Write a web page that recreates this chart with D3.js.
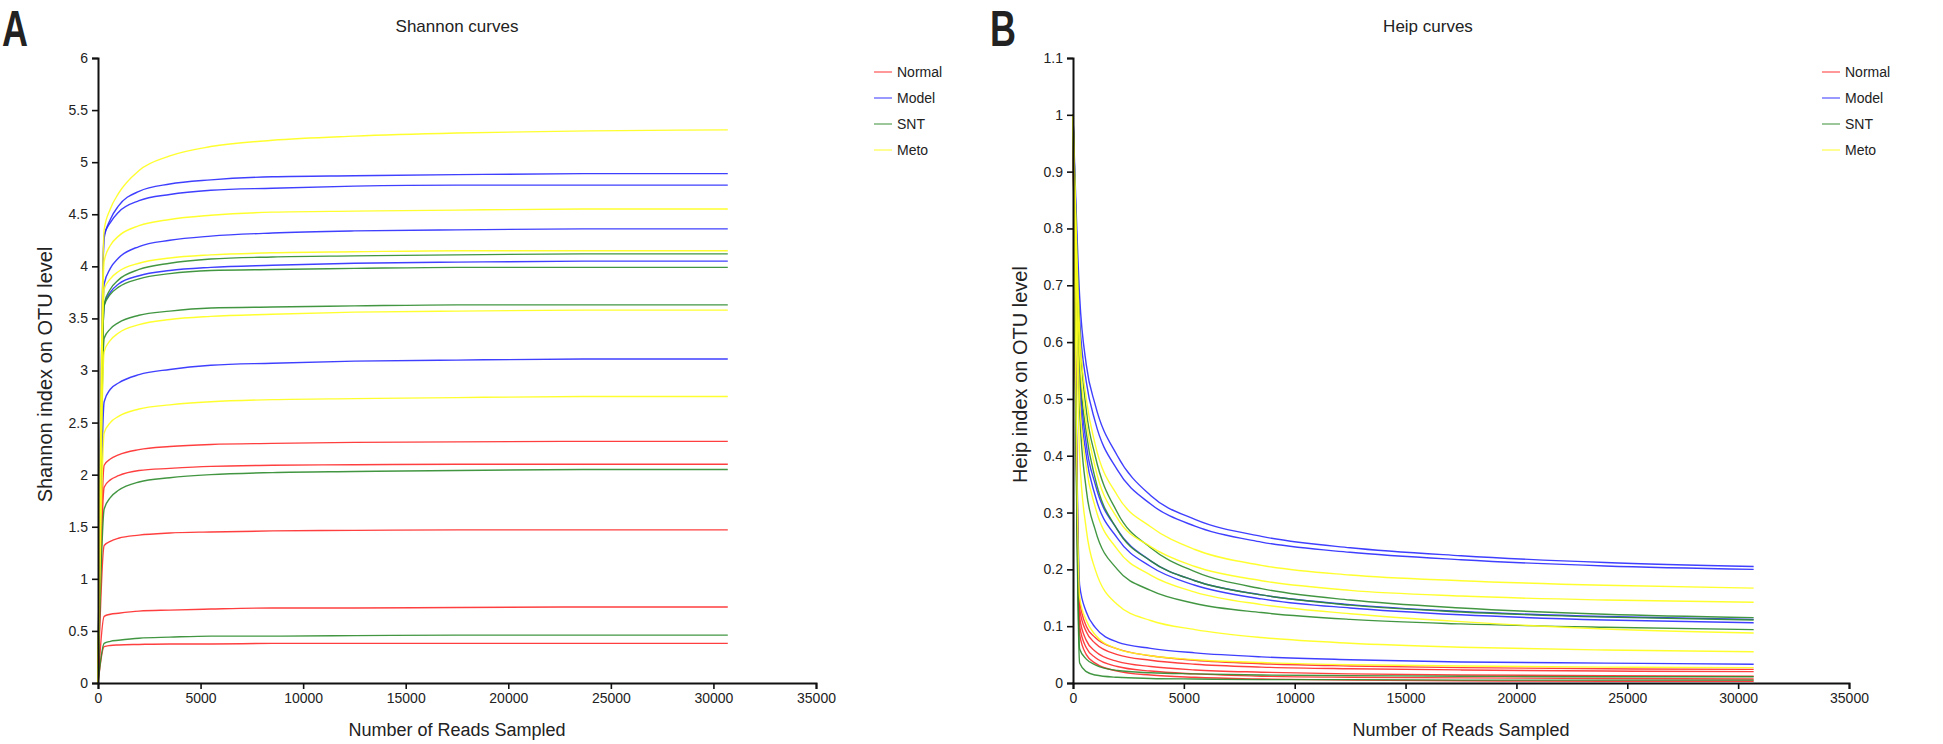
<!DOCTYPE html>
<html><head><meta charset="utf-8">
<script src="https://cdn.jsdelivr.net/npm/d3@7"></script>
<style>
html,body{margin:0;padding:0;background:#fff;}
svg{display:block;}
text{font-family:"Liberation Sans",Arial,sans-serif;fill:#222;}
</style></head><body>
<svg id="c" width="1943" height="744"></svg>
<script>
// ---------- data ----------
const reads = [1, 300, 600, 1000, 2000, 3500, 5500, 8500, 12500, 17500, 24000, 30700];
const groups = ["Normal", "Model", "SNT", "Meto"];
const groupColors = ["#ff2a2a", "#2a2aff", "#2e8b2e", "#ffff1a"];
const xTicks = [0, 5000, 10000, 15000, 20000, 25000, 30000, 35000];
const shannonTicks = [0, 0.5, 1, 1.5, 2, 2.5, 3, 3.5, 4, 4.5, 5, 5.5, 6];
const heipTicks = [0, 0.1, 0.2, 0.3, 0.4, 0.5, 0.6, 0.7, 0.8, 0.9, 1, 1.1];

// Shannon index per sample
const shannonNormal = [
  [0, 2.09, 2.15, 2.19, 2.24, 2.27, 2.29, 2.30, 2.31, 2.315, 2.32, 2.32],
  [0, 1.88, 1.95, 1.99, 2.04, 2.06, 2.08, 2.09, 2.095, 2.10, 2.10, 2.10],
  [0, 1.32, 1.36, 1.39, 1.42, 1.44, 1.45, 1.46, 1.465, 1.47, 1.47, 1.47],
  [0, 0.64, 0.66, 0.67, 0.69, 0.70, 0.71, 0.72, 0.72, 0.725, 0.73, 0.73],
  [0, 0.35, 0.36, 0.365, 0.37, 0.375, 0.375, 0.38, 0.38, 0.38, 0.38, 0.38]
];
const shannonModel = [
  [0, 4.27, 4.45, 4.58, 4.72, 4.79, 4.83, 4.86, 4.87, 4.88, 4.89, 4.89],
  [0, 4.30, 4.42, 4.52, 4.63, 4.69, 4.73, 4.75, 4.77, 4.78, 4.78, 4.78],
  [0, 3.83, 3.98, 4.08, 4.19, 4.25, 4.29, 4.32, 4.34, 4.35, 4.36, 4.36],
  [0, 3.63, 3.75, 3.83, 3.91, 3.96, 3.99, 4.01, 4.03, 4.04, 4.05, 4.05],
  [0, 2.70, 2.82, 2.88, 2.96, 3.01, 3.05, 3.07, 3.09, 3.10, 3.11, 3.11]
];
const shannonSNT = [
  [0, 3.64, 3.78, 3.87, 3.97, 4.03, 4.07, 4.09, 4.10, 4.11, 4.12, 4.12],
  [0, 3.62, 3.73, 3.80, 3.88, 3.93, 3.96, 3.97, 3.98, 3.99, 3.99, 3.99],
  [0, 3.31, 3.40, 3.46, 3.53, 3.57, 3.60, 3.61, 3.62, 3.63, 3.63, 3.63],
  [0, 1.67, 1.78, 1.85, 1.93, 1.97, 2.00, 2.02, 2.03, 2.04, 2.05, 2.05],
  [0, 0.38, 0.40, 0.41, 0.43, 0.44, 0.45, 0.45, 0.455, 0.46, 0.46, 0.46]
];
const shannonMeto = [
  [0, 4.35, 4.55, 4.70, 4.92, 5.06, 5.15, 5.21, 5.25, 5.28, 5.30, 5.31],
  [0, 4.05, 4.20, 4.29, 4.39, 4.45, 4.49, 4.52, 4.53, 4.54, 4.55, 4.55],
  [0, 3.78, 3.88, 3.95, 4.03, 4.08, 4.11, 4.13, 4.14, 4.15, 4.15, 4.15],
  [0, 3.18, 3.29, 3.36, 3.44, 3.49, 3.52, 3.54, 3.56, 3.57, 3.58, 3.58],
  [0, 2.40, 2.50, 2.56, 2.63, 2.67, 2.70, 2.72, 2.73, 2.74, 2.75, 2.75]
];

// Heip index per sample
const heipNormal = [
  [1.0, 0.145, 0.10, 0.08, 0.06, 0.048, 0.04, 0.034, 0.03, 0.027, 0.025, 0.024],
  [1.0, 0.13, 0.09, 0.07, 0.05, 0.04, 0.033, 0.028, 0.025, 0.023, 0.021, 0.02],
  [1.0, 0.115, 0.075, 0.056, 0.038, 0.029, 0.023, 0.019, 0.016, 0.014, 0.013, 0.012],
  [1.0, 0.10, 0.062, 0.045, 0.029, 0.021, 0.016, 0.012, 0.01, 0.009, 0.008, 0.007],
  [1.0, 0.085, 0.05, 0.035, 0.021, 0.014, 0.01, 0.007, 0.005, 0.004, 0.003, 0.003]
];
const heipModel = [
  [1.0, 0.68, 0.56, 0.49, 0.40, 0.33, 0.288, 0.258, 0.238, 0.224, 0.212, 0.205],
  [1.0, 0.64, 0.53, 0.46, 0.375, 0.315, 0.276, 0.248, 0.230, 0.217, 0.206, 0.200],
  [1.0, 0.55, 0.42, 0.35, 0.27, 0.215, 0.18, 0.155, 0.138, 0.126, 0.117, 0.112],
  [1.0, 0.52, 0.40, 0.33, 0.255, 0.205, 0.172, 0.148, 0.132, 0.12, 0.111, 0.106],
  [1.0, 0.172, 0.125, 0.098, 0.072, 0.061, 0.053, 0.046, 0.041, 0.037, 0.035, 0.033]
];
const heipSNT = [
  [1.0, 0.62, 0.48, 0.40, 0.30, 0.238, 0.196, 0.166, 0.146, 0.132, 0.121, 0.115],
  [1.0, 0.56, 0.44, 0.36, 0.27, 0.215, 0.18, 0.155, 0.137, 0.125, 0.116, 0.111],
  [1.0, 0.48, 0.34, 0.27, 0.20, 0.163, 0.14, 0.124, 0.112, 0.104, 0.098, 0.094],
  [1.0, 0.06, 0.042, 0.032, 0.022, 0.018, 0.016, 0.014, 0.013, 0.012, 0.011, 0.011],
  [1.0, 0.035, 0.02, 0.014, 0.01, 0.008, 0.007, 0.006, 0.006, 0.005, 0.005, 0.005]
];
const heipMeto = [
  [1.0, 0.62, 0.50, 0.42, 0.33, 0.275, 0.235, 0.207, 0.19, 0.18, 0.172, 0.167],
  [1.0, 0.58, 0.46, 0.38, 0.29, 0.24, 0.205, 0.18, 0.163, 0.153, 0.146, 0.142],
  [1.0, 0.50, 0.38, 0.31, 0.235, 0.19, 0.16, 0.138, 0.122, 0.108, 0.095, 0.088],
  [1.0, 0.40, 0.27, 0.20, 0.138, 0.11, 0.094, 0.08, 0.07, 0.063, 0.058, 0.055],
  [1.0, 0.15, 0.11, 0.085, 0.06, 0.048, 0.041, 0.036, 0.032, 0.03, 0.028, 0.027]
];

// ---------- drawing ----------
const svg = d3.select("#c");

function panel(cfg) {
  const x = d3.scaleLinear().domain([0, 35000]).range([cfg.x0, cfg.x1]);
  const y = d3.scaleLinear().domain(cfg.yDomain).range([683, 58]);
  const g = svg.append("g");

  const line = d3.line().x((d, i) => x(reads[i])).y(d => y(d)).curve(d3.curveMonotoneX);
  cfg.series.forEach((set, gi) => {
    set.forEach(vals => {
      g.append("path").attr("d", line(vals)).attr("fill", "none")
        .attr("stroke", groupColors[gi]).attr("stroke-width", 1.4)
        .attr("stroke-opacity", 0.9);
    });
  });

  const xa = g.append("g").attr("transform", `translate(0,${y(0)})`)
    .call(d3.axisBottom(x).tickValues(xTicks).tickSize(6).tickPadding(4).tickFormat(d3.format("d")));
  const ya = g.append("g").attr("transform", `translate(${x(0)},0)`)
    .call(d3.axisLeft(y).tickValues(cfg.yTicks).tickSize(6).tickPadding(4).tickFormat(d => String(+d.toFixed(1))));
  [xa, ya].forEach(a => {
    a.selectAll("path").attr("stroke", "#111").attr("stroke-width", 2);
    a.selectAll("line").attr("stroke", "#111").attr("stroke-width", 1.6);
    a.selectAll("text").attr("font-size", 14).attr("fill", "#222")
      .attr("font-family", '"Liberation Sans", Arial, sans-serif');
  });

  g.append("text").attr("x", cfg.titleX).attr("y", 32).attr("text-anchor", "middle")
    .attr("font-size", 17).text(cfg.title);
  g.append("text").attr("x", (cfg.x0 + cfg.x1) / 2).attr("y", 736).attr("text-anchor", "middle")
    .attr("font-size", 18).attr("font-family", '"Liberation Sans Narrow","Liberation Sans",Arial,sans-serif')
    .text("Number of Reads Sampled");
  g.append("text").attr("transform", `translate(${cfg.x0 - 46},${(58 + 683) / 2 + 4}) rotate(-90)`)
    .attr("text-anchor", "middle").attr("font-size", 20)
    .attr("font-family", '"Liberation Sans Narrow","Liberation Sans",Arial,sans-serif')
    .text(cfg.ylabel);

  g.append("text").attr("transform", `translate(${cfg.letterX},46) scale(0.72,1)`)
    .attr("font-family", '"Liberation Serif","DejaVu Serif",serif').attr("font-weight", "bold")
    .attr("font-size", 50).attr("fill", "#000").text(cfg.letter);

  const lg = g.append("g");
  groups.forEach((name, i) => {
    const yy = cfg.legY + i * 26;
    lg.append("line").attr("x1", cfg.legX).attr("x2", cfg.legX + 18).attr("y1", yy).attr("y2", yy)
      .attr("stroke", groupColors[i]).attr("stroke-width", 1.6).attr("stroke-opacity", 0.6);
    lg.append("text").attr("x", cfg.legX + 23).attr("y", yy + 5).attr("font-size", 14).text(name);
  });
}

panel({
  x0: 98, x1: 816, yDomain: [0, 6], yTicks: shannonTicks,
  series: [shannonNormal, shannonModel, shannonSNT, shannonMeto],
  title: "Shannon curves", titleX: 457, ylabel: "Shannon index on OTU level",
  letter: "A", letterX: 2, legX: 874, legY: 72
});
panel({
  x0: 1073, x1: 1849, yDomain: [0, 1.1], yTicks: heipTicks,
  series: [heipNormal, heipModel, heipSNT, heipMeto],
  title: "Heip curves", titleX: 1428, ylabel: "Heip index on OTU level",
  letter: "B", letterX: 990, legX: 1822, legY: 72
});
</script></body></html>
